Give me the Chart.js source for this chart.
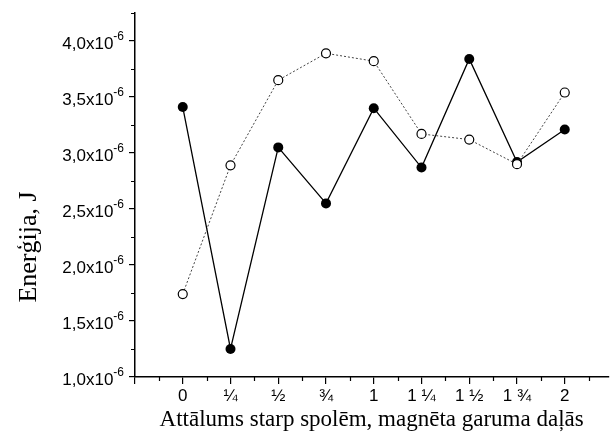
<!DOCTYPE html>
<html><head><meta charset="utf-8">
<script src="https://cdn.jsdelivr.net/npm/chart.js@4.4.0/dist/chart.umd.min.js"></script>
<style>html,body{margin:0;padding:0;background:#fff}</style>
</head><body>
<canvas id="c" width="614" height="441"></canvas>
<script>
// Data
const xPositions   = [0, 0.25, 0.5, 0.75, 1, 1.25, 1.5, 1.75, 2];
const xTickLabels  = ['0', '¼', '½', '¾', '1', '1 ¼', '1 ½', '1 ¾', '2'];
const filledSeries = [3.41e-6, 1.25e-6, 3.05e-6, 2.55e-6, 3.40e-6, 2.87e-6, 3.84e-6, 2.92e-6, 3.21e-6];
const openSeries   = [1.74e-6, 2.89e-6, 3.65e-6, 3.89e-6, 3.82e-6, 3.17e-6, 3.12e-6, 2.90e-6, 3.54e-6];
const yTickValues  = [1.0e-6, 1.5e-6, 2.0e-6, 2.5e-6, 3.0e-6, 3.5e-6, 4.0e-6];
const yTickLabels  = ['1,0x10', '1,5x10', '2,0x10', '2,5x10', '3,0x10', '3,5x10', '4,0x10'];
const yTickExp     = '-6';
const xTitle = 'Attālums starp spolēm, magnēta garuma daļās';
const yTitle = 'Enerģija, J';

const xMajor = [-0.25].concat(xPositions);
const xMinor = [-0.125, 0.125, 0.375, 0.625, 0.875, 1.125, 1.375, 1.625, 1.875, 2.125];
const yMinor = [1.25e-6, 1.75e-6, 2.25e-6, 2.75e-6, 3.25e-6, 3.75e-6, 4.25e-6];

const decor = {
  id: 'decor',
  afterDraw(chart) {
    const ctx = chart.ctx, xs = chart.scales.x, ys = chart.scales.y;
    const ca = chart.chartArea;
    ctx.save();
    ctx.strokeStyle = '#000';
    ctx.lineWidth = 1.2;
    ctx.beginPath();
    xMinor.forEach(v => {
      const px = Math.round(xs.getPixelForValue(v)) + 0.5;
      ctx.moveTo(px, ca.bottom); ctx.lineTo(px, ca.bottom + 4);
    });
    yMinor.forEach(v => {
      const py = Math.round(ys.getPixelForValue(v)) + 0.5;
      ctx.moveTo(ca.left, py); ctx.lineTo(ca.left - 4, py);
    });
    ctx.stroke();

    // y tick labels with superscript exponent
    ctx.fillStyle = '#000';
    ctx.textAlign = 'right';
    ctx.textBaseline = 'alphabetic';
    yTickValues.forEach((v, i) => {
      const py = ys.getPixelForValue(v);
      const xr = ca.left - 11;
      ctx.font = '12px "Liberation Sans", Arial, sans-serif';
      const w = ctx.measureText(yTickExp).width;
      ctx.fillText(yTickExp, xr, py - 1);
      ctx.font = '17px "Liberation Sans", Arial, sans-serif';
      ctx.fillText(yTickLabels[i], xr - w, py + 8);
    });

    // y title
    ctx.save();
    ctx.translate(36, 247);
    ctx.rotate(-Math.PI / 2);
    ctx.textAlign = 'center';
    ctx.textBaseline = 'alphabetic';
    ctx.font = '26px "Liberation Serif", "Times New Roman", serif';
    ctx.fillText(yTitle, 0, 0);
    ctx.restore();
    ctx.restore();
  }
};

new Chart(document.getElementById('c'), {
  type: 'line',
  data: {
    datasets: [
      {
        label: 'open',
        data: xPositions.map((x, i) => ({x, y: openSeries[i]})),
        borderColor: '#444',
        borderWidth: 1,
        borderDash: [2, 2],
        pointRadius: 4.5,
        pointBackgroundColor: '#fff',
        pointBorderColor: '#000',
        pointBorderWidth: 1.2,
        tension: 0
      },
      {
        label: 'filled',
        data: xPositions.map((x, i) => ({x, y: filledSeries[i]})),
        borderColor: '#000',
        borderWidth: 1.3,
        pointRadius: 5,
        pointBackgroundColor: '#000',
        pointBorderColor: '#000',
        pointBorderWidth: 0,
        tension: 0
      }
    ]
  },
  options: {
    responsive: false,
    animation: false,
    devicePixelRatio: 1,
    layout: { padding: { top: 13, right: 0, left: 0, bottom: 0 } },
    plugins: { legend: { display: false }, tooltip: { enabled: false } },
    scales: {
      x: {
        type: 'linear',
        min: -0.25,
        max: 2.228,
        border: { display: true, color: '#000', width: 1.5 },
        grid: { display: true, drawOnChartArea: false, drawTicks: true, tickLength: 7, color: '#000', lineWidth: 1.2 },
        ticks: {
          color: '#000',
          font: { family: '"Liberation Sans", Arial, sans-serif', size: 17 },
          padding: 2,
          maxRotation: 0,
          autoSkip: false,
          callback: (v) => {
            const i = xPositions.findIndex(p => Math.abs(p - v) < 1e-9);
            return i >= 0 ? xTickLabels[i] : '';
          }
        },
        afterBuildTicks: s => { s.ticks = xMajor.map(v => ({ value: v })); },
        title: {
          display: true,
          text: xTitle,
          color: '#000',
          font: { family: '"Liberation Serif", "Times New Roman", serif', size: 23 },
          padding: { top: 0, bottom: 7 }
        },
        afterFit: s => { s.height = 64; }
      },
      y: {
        type: 'linear',
        min: 1.0e-6,
        max: 4.25e-6,
        border: { display: true, color: '#000', width: 1.5 },
        grid: { display: true, drawOnChartArea: false, drawTicks: true, tickLength: 6, color: '#000', lineWidth: 1.2 },
        ticks: { display: false },
        afterBuildTicks: s => { s.ticks = yTickValues.map(v => ({ value: v })); },
        afterFit: s => { s.width = 135; }
      }
    }
  },
  plugins: [decor]
});
</script>
</body></html>
